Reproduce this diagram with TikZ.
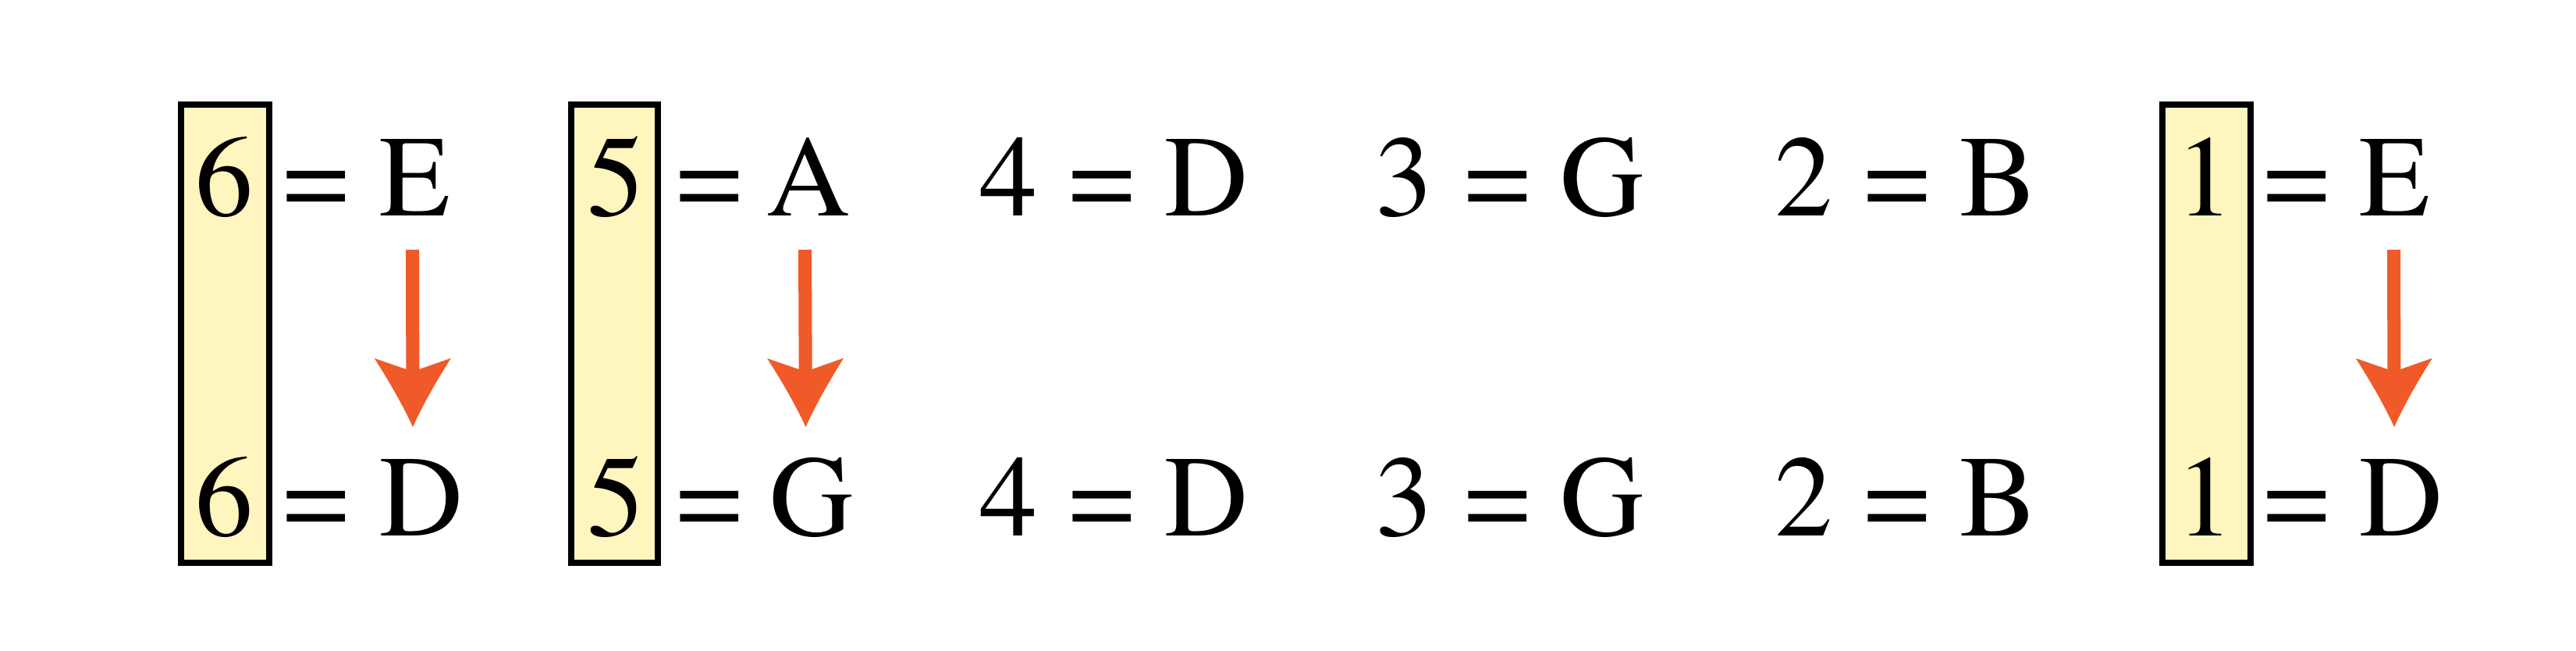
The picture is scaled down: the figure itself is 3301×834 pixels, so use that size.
\documentclass[tikz,border=0pt]{standalone}
\usepackage[T1]{fontenc}
\renewcommand{\rmdefault}{ptm}
\usetikzlibrary{arrows.meta}
\definecolor{boxfill}{RGB}{255,245,190}
\definecolor{arrcol}{RGB}{240,90,40}
\pgfdeclarearrow{
  name = HeadC,
  setup code = {
    \pgfarrowssettipend{0pt}
    \pgfarrowssetlineend{-20pt}
    \pgfarrowssetvisualbackend{-25.04pt}
    \pgfarrowssetbackend{-25.04pt}
    \pgfarrowshullpoint{0pt}{0pt}
    \pgfarrowsupperhullpoint{-25.04pt}{13.94pt}
  },
  drawing code = {
    \pgfpathmoveto{\pgfqpoint{0pt}{0pt}}
    \pgfpathcurveto{\pgfqpoint{-8.54pt}{3.9pt}}{\pgfqpoint{-17.07pt}{8.9pt}}{\pgfqpoint{-25.04pt}{13.94pt}}
    \pgfpathlineto{\pgfqpoint{-20.2pt}{0pt}}
    \pgfpathlineto{\pgfqpoint{-25.04pt}{-13.94pt}}
    \pgfpathcurveto{\pgfqpoint{-17.07pt}{-8.9pt}}{\pgfqpoint{-8.54pt}{-3.9pt}}{\pgfqpoint{0pt}{0pt}}
    \pgfpathclose
    \pgfusepathqfill
  }
}
\tikzset{
  hbox/.style={draw=black, fill=boxfill, line width=0.08cm},
  txt/.style={inner sep=0pt, anchor=base, font=\fontsize{42.11pt}{50pt}\selectfont},
  ltr/.style={txt, anchor=base west},
  arr/.style={color=arrcol, line width=0.17cm, line cap=butt, -{HeadC}}
}
\begin{document}
\begin{tikzpicture}[x=0.01cm, y=-0.01cm]
\useasboundingbox (0,0) rectangle (3301,834);
\fill[white] (0,0) rectangle (3301,834);
% boxes
\draw[hbox] (232,134) rectangle (345,721);
\draw[hbox] (732,134) rectangle (843,721);
\draw[hbox] (2771,134) rectangle (2884,721);
% top row
\node[txt] (d6t) at (288,277) {6};
\node[txt] (e6t) at (405,277) {=};
\node[ltr] (l6t) at (486,277) {E};
\node[txt] (d5t) at (790,277) {5};
\node[txt] (e5t) at (909,277) {=};
\node[ltr] (l5t) at (982,277) {A};
\node[txt] (d4t) at (1292.5,277) {4};
\node[txt] (e4t) at (1412,277) {=};
\node[ltr] (l4t) at (1492,277) {D};
\node[txt] (d3t) at (1799.5,277) {3};
\node[txt] (e3t) at (1919,277) {=};
\node[ltr] (l3t) at (1999,277) {G};
\node[txt] (d2t) at (2311,277) {2};
\node[txt] (e2t) at (2431,277) {=};
\node[ltr] (l2t) at (2511,277) {B};
\node[txt] (d1t) at (2825,277) {1};
\node[txt] (e1t) at (2943.5,277) {=};
\node[ltr] (l1t) at (3023,277) {E};
% bottom row
\node[txt] (d6b) at (288,686) {6};
\node[txt] (e6b) at (405,686) {=};
\node[ltr] (l6b) at (486,686) {D};
\node[txt] (d5b) at (790,686) {5};
\node[txt] (e5b) at (909,686) {=};
\node[ltr] (l5b) at (986,686) {G};
\node[txt] (d4b) at (1292.5,686) {4};
\node[txt] (e4b) at (1412,686) {=};
\node[ltr] (l4b) at (1492,686) {D};
\node[txt] (d3b) at (1799.5,686) {3};
\node[txt] (e3b) at (1919,686) {=};
\node[ltr] (l3b) at (1999,686) {G};
\node[txt] (d2b) at (2311,686) {2};
\node[txt] (e2b) at (2431,686) {=};
\node[ltr] (l2b) at (2511,686) {B};
\node[txt] (d1b) at (2825,686) {1};
\node[txt] (e1b) at (2943.5,686) {=};
\node[ltr] (l1b) at (3023,686) {D};
% arrows
\coordinate (s1) at (528.5,320);
\coordinate (t1) at (529,547);
\coordinate (s2) at (1031.5,320);
\coordinate (t2) at (1032.5,547);
\coordinate (s3) at (3067.5,320);
\coordinate (t3) at (3068,547);
\draw[arr] (s1) -- (t1);
\draw[arr] (s2) -- (t2);
\draw[arr] (s3) -- (t3);
\end{tikzpicture}
\end{document}
